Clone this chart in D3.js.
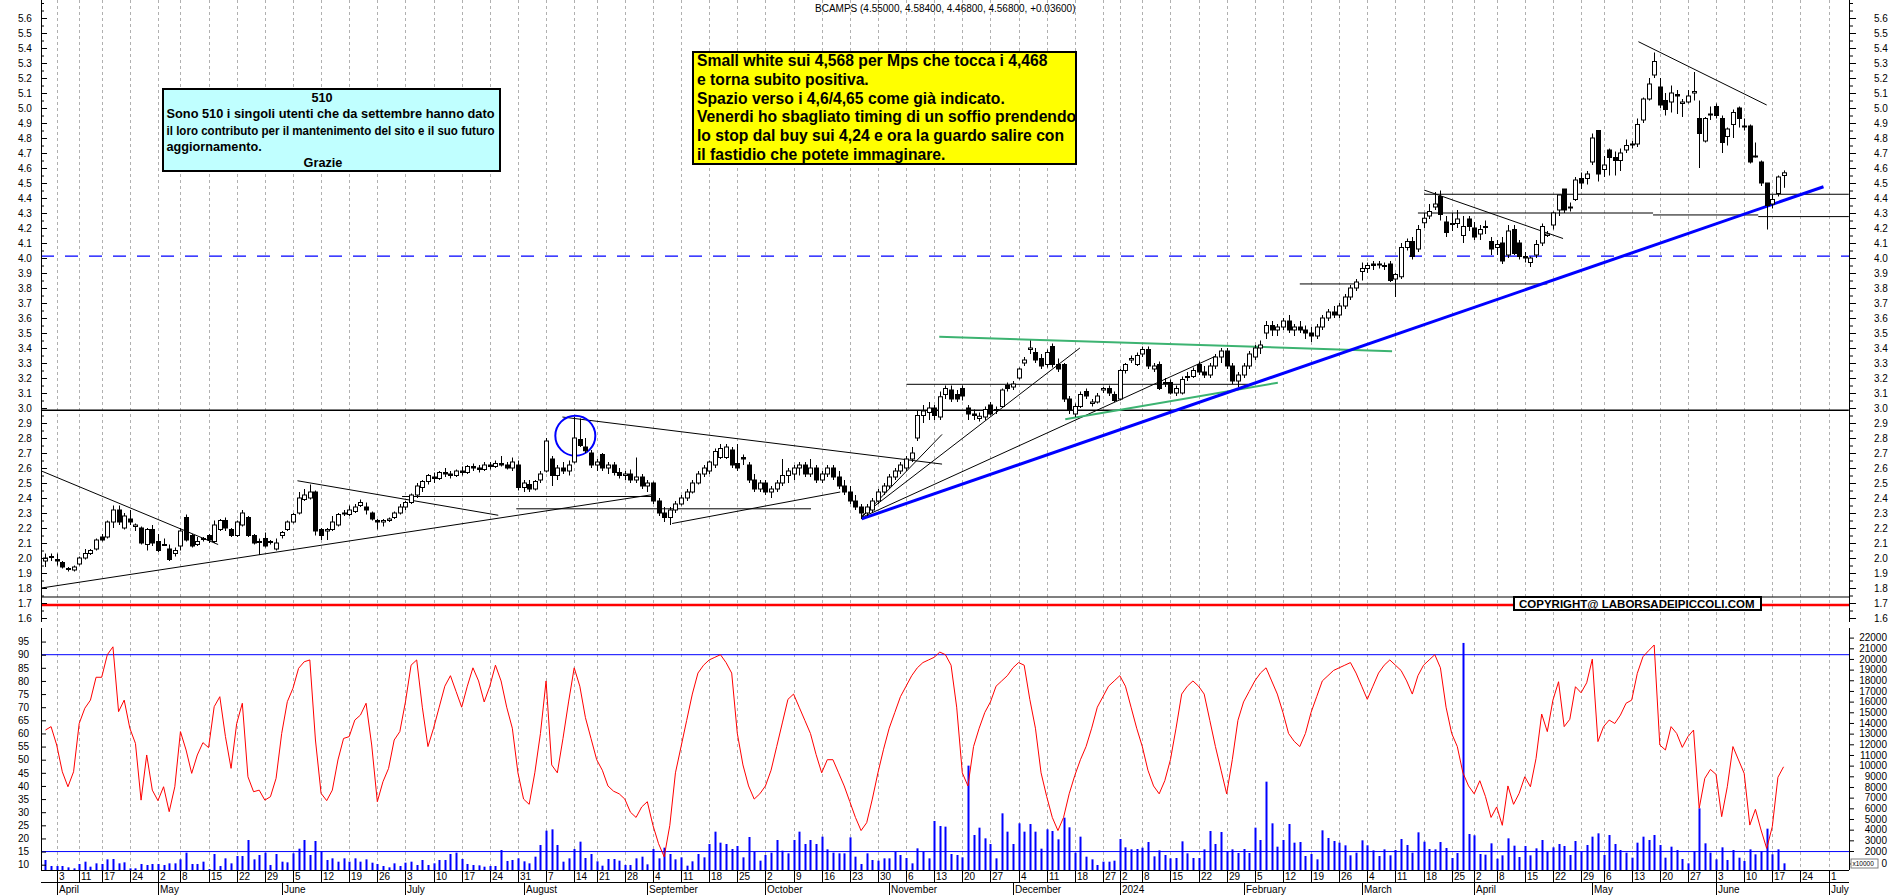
<!DOCTYPE html>
<html>
<head>
<meta charset="utf-8">
<script src="https://cdn.jsdelivr.net/npm/d3@7"></script>
<style>
  body { margin: 0; background: #fff; }
  svg { display: block; font-family: "Liberation Sans", Arial, sans-serif; }
</style>
</head>
<body>
<div id="chart"></div>
<script>
// Borsa Italiana closing days inside the plotted range
const holidays = ["2023-04-07", "2023-04-10", "2023-05-01", "2023-08-15", "2023-12-25",
  "2023-12-26", "2024-01-01", "2024-03-29", "2024-04-01", "2024-05-01"];
const monthNames = ["January", "February", "March", "April", "May", "June", "July",
  "August", "September", "October", "November", "December"];

// daily candles, 30 Mar 2023 .. 19 Jun 2024
// block A: 30 Mar - 30 Jun 2023
const openA = [1.98,2.01,1.99,1.97,1.93,1.92,1.96,2.00,2.03,2.06,2.14,2.14,2.24,2.32,2.20,2.26,2.21,2.20,2.09,2.19,2.11,2.09,2.06,2.03,2.08,2.27,2.15,2.09,2.13,2.15,2.11,2.19,2.25,2.19,2.15,2.22,2.27,2.15,2.11,2.13,2.11,2.06,2.15,2.19,2.24,2.30,2.39,2.40,2.44,2.19,2.18,2.19,2.22,2.30,2.29,2.31,2.35,2.34,2.30,2.25,2.24,2.25,2.27,2.30];
const highA = [2.03,2.03,2.03,1.98,1.94,1.95,2.01,2.06,2.06,2.13,2.16,2.25,2.35,2.35,2.30,2.32,2.23,2.21,2.20,2.22,2.16,2.13,2.09,2.07,2.20,2.29,2.16,2.14,2.14,2.16,2.25,2.26,2.27,2.20,2.25,2.32,2.28,2.16,2.13,2.17,2.12,2.13,2.18,2.25,2.30,2.44,2.46,2.49,2.45,2.20,2.20,2.28,2.30,2.32,2.35,2.36,2.39,2.37,2.31,2.26,2.26,2.27,2.31,2.36];
const lowA = [1.94,1.98,1.95,1.93,1.91,1.91,1.95,1.99,2.02,2.05,2.11,2.13,2.20,2.22,2.19,2.22,2.18,2.09,2.05,2.08,2.04,2.08,1.98,2.01,2.05,2.11,2.07,2.08,2.11,2.10,2.10,2.18,2.18,2.14,2.14,2.21,2.14,2.09,2.02,2.07,2.09,2.05,2.13,2.18,2.23,2.29,2.38,2.39,2.15,2.12,2.12,2.18,2.21,2.28,2.28,2.30,2.34,2.29,2.25,2.19,2.21,2.24,2.26,2.29];
const closeA = [2.00,2.01,1.98,1.94,1.93,1.94,2.00,2.03,2.05,2.12,2.12,2.24,2.32,2.24,2.28,2.24,2.22,2.10,2.19,2.10,2.05,2.09,1.99,2.05,2.18,2.12,2.08,2.11,2.13,2.12,2.22,2.25,2.20,2.15,2.24,2.30,2.15,2.10,2.11,2.08,2.11,2.10,2.17,2.24,2.29,2.40,2.42,2.44,2.18,2.15,2.19,2.24,2.29,2.30,2.32,2.34,2.37,2.32,2.26,2.24,2.25,2.26,2.30,2.34];

// block B: 3 Jul 2023 - 16 Apr 2024
const openB = [2.34,2.37,2.42,2.47,2.51,2.54,2.53,2.57,2.56,2.55, 2.58,2.57,2.61,2.60,2.59,2.62,2.61,2.63,2.62,2.60,
  2.62,2.47,2.49,2.46,2.52,2.58,2.66,2.55,2.60,2.58, 2.64,2.79,2.74,2.70,2.62,2.69,2.60,2.62,2.57,2.55,
  2.56,2.52,2.54,2.48,2.50,2.38,2.30,2.27,2.32,2.36, 2.40,2.44,2.50,2.56,2.58,2.62,2.67,2.67,2.72,2.63,
  2.67,2.62,2.52,2.46,2.50,2.44,2.46,2.50,2.55,2.56, 2.60,2.62,2.56,2.60,2.52,2.56,2.60,2.54,2.48,2.44,
  2.38,2.34,2.30,2.32,2.38,2.44,2.48,2.54,2.58,2.60, 2.66,2.80,2.95,2.97,3.00,2.94,3.09,3.12,3.09,3.13,
  3.00,2.96,2.93,2.94,3.02,2.99,3.01,3.15,3.14,3.20, 3.30,3.39,3.37,3.33,3.29,3.41,3.29,3.29,3.06,2.96,
  3.01,3.11,3.03,3.04,3.12,3.13,3.09,3.06,3.25,3.32, 3.29,3.36,3.39,3.26,3.29,3.17,3.17,3.10,3.10,3.21,
  3.21,3.29,3.24,3.22,3.28,3.34,3.38,3.28,3.18,3.22, 3.28,3.34,3.40,3.50,3.55,3.52,3.54,3.58,3.52,3.54,
  3.52,3.50,3.48,3.54,3.60,3.64,3.62,3.68,3.74,3.80, 3.91,3.93,3.96,3.96,3.95,3.96,3.86,3.875,4.07,4.11,
  4.06,4.235,4.28,4.34,4.41,4.24,4.23,4.23,4.15,4.26, 4.20,4.16,4.21,4.11,4.07,4.10,4.02,4.19,4.10,4.01,3.97];
const highB = [2.38,2.43,2.50,2.52,2.56,2.57,2.58,2.60,2.58,2.59, 2.61,2.62,2.63,2.62,2.64,2.64,2.65,2.68,2.64,2.67,
  2.65,2.52,2.52,2.52,2.58,2.80,2.68,2.62,2.64,2.65, 2.94,2.93,2.80,2.72,2.66,2.70,2.64,2.64,2.60,2.58,
  2.59,2.67,2.56,2.52,2.51,2.40,2.34,2.34,2.38,2.42, 2.46,2.52,2.58,2.62,2.65,2.73,2.76,2.76,2.74,2.76,
  2.69,2.64,2.56,2.52,2.52,2.48,2.52,2.66,2.60,2.62, 2.64,2.64,2.66,2.62,2.58,2.62,2.62,2.58,2.52,2.48,
  2.42,2.36,2.36,2.40,2.46,2.50,2.56,2.60,2.64,2.68, 2.74,2.98,3.02,3.04,3.02,3.11,3.15,3.15,3.12,3.15,
  3.02,2.99,2.97,3.01,3.04,3.01,3.13,3.17,3.18,3.27, 3.34,3.45,3.40,3.36,3.39,3.43,3.33,3.30,3.08,3.03,
  3.11,3.13,3.06,3.10,3.14,3.15,3.11,3.26,3.30,3.35, 3.37,3.41,3.41,3.30,3.31,3.20,3.19,3.15,3.21,3.24,
  3.27,3.31,3.28,3.30,3.36,3.40,3.40,3.30,3.24,3.30, 3.38,3.42,3.45,3.58,3.58,3.56,3.60,3.62,3.56,3.58,
  3.55,3.54,3.56,3.62,3.66,3.68,3.70,3.76,3.82,3.86, 3.97,3.97,3.98,3.98,3.97,3.98,3.90,4.10,4.13,4.14,
  4.22,4.30,4.36,4.44,4.45,4.28,4.30,4.32,4.28,4.28, 4.24,4.22,4.25,4.14,4.12,4.14,4.22,4.22,4.12,4.04,4.01];
const lowB = [2.32,2.36,2.40,2.44,2.49,2.50,2.52,2.54,2.53,2.54, 2.55,2.56,2.58,2.57,2.58,2.59,2.60,2.61,2.59,2.58,
  2.45,2.44,2.44,2.45,2.50,2.57,2.48,2.52,2.56,2.55, 2.63,2.74,2.70,2.60,2.58,2.58,2.56,2.55,2.53,2.52,
  2.50,2.50,2.46,2.44,2.36,2.28,2.24,2.22,2.30,2.35, 2.38,2.43,2.49,2.54,2.56,2.60,2.66,2.66,2.60,2.58,
  2.62,2.50,2.44,2.44,2.42,2.40,2.44,2.48,2.50,2.52, 2.55,2.54,2.54,2.50,2.50,2.54,2.52,2.46,2.42,2.36,
  2.32,2.26,2.28,2.30,2.36,2.42,2.46,2.52,2.56,2.58, 2.64,2.78,2.90,2.92,2.92,2.92,3.06,3.04,3.04,3.05,
  2.92,2.92,2.91,2.92,2.95,2.96,3.00,3.11,3.12,3.19, 3.28,3.36,3.30,3.26,3.27,3.27,3.24,3.04,2.96,2.94,
  3.00,3.06,3.01,3.03,3.10,3.08,3.04,3.05,3.23,3.30, 3.28,3.34,3.26,3.24,3.12,3.14,3.09,3.08,3.09,3.18,
  3.20,3.22,3.20,3.20,3.26,3.30,3.26,3.16,3.14,3.20, 3.26,3.32,3.36,3.46,3.48,3.48,3.52,3.50,3.48,3.50,
  3.46,3.44,3.46,3.52,3.58,3.60,3.60,3.66,3.72,3.78, 3.85,3.90,3.92,3.93,3.92,3.84,3.74,3.86,4.05,3.99,
  4.04,4.20,4.26,4.32,4.25,4.14,4.18,4.20,4.10,4.18, 4.12,4.12,4.16,4.02,4.02,3.96,4.00,4.02,3.99,3.97,3.94];
const closeB = [2.37,2.42,2.48,2.51,2.55,2.53,2.57,2.56,2.55,2.58, 2.57,2.61,2.60,2.59,2.62,2.61,2.63,2.62,2.60,2.64,
  2.47,2.50,2.46,2.51,2.56,2.78,2.55,2.60,2.58,2.62, 2.80,2.75,2.715,2.62,2.64,2.60,2.62,2.57,2.55,2.56,
  2.52,2.54,2.48,2.50,2.38,2.30,2.27,2.32,2.36,2.40, 2.44,2.50,2.56,2.60,2.64,2.71,2.73,2.74,2.62,2.60,
  2.66,2.52,2.46,2.50,2.44,2.46,2.50,2.55,2.58,2.60, 2.62,2.56,2.60,2.52,2.56,2.60,2.54,2.48,2.44,2.38,
  2.34,2.30,2.34,2.38,2.44,2.48,2.54,2.58,2.62,2.66, 2.70,2.95,2.98,3.00,2.95,3.075,3.13,3.06,3.06,3.08,
  2.96,2.95,2.945,2.99,2.96,2.99,3.12,3.13,3.16,3.26, 3.32,3.40,3.32,3.28,3.37,3.29,3.26,3.06,2.99,3.01,
  3.09,3.08,3.04,3.08,3.13,3.10,3.05,3.25,3.29,3.33, 3.35,3.39,3.28,3.28,3.13,3.17,3.10,3.13,3.19,3.21,
  3.25,3.24,3.22,3.28,3.34,3.38,3.28,3.18,3.22,3.28, 3.36,3.40,3.42,3.55,3.52,3.54,3.58,3.52,3.54,3.52,
  3.50,3.48,3.54,3.60,3.64,3.62,3.68,3.74,3.80,3.84, 3.93,3.95,3.95,3.96,3.95,3.85,3.89,4.07,4.11,4.01,
  4.19,4.265,4.31,4.36,4.29,4.17,4.23,4.26,4.21,4.21, 4.14,4.19,4.21,4.06,4.09,3.98,4.18,4.03,4.01,4.00,4.00];

// block C: 17 Apr - 19 Jun 2024
const openC = [4.02,4.10,4.15,4.22,4.32,4.46,4.34,4.39,4.53,4.53,4.64,4.85,4.59,4.72,4.67,4.65,4.72,4.76,4.76,4.92,5.06,5.22,5.14,5.05,5.04,5.09,5.03,5.04,5.10,4.93,4.78,4.96,5.01,4.93,4.81,4.89,5.00,4.88,4.88,4.68,4.64,4.50,4.36,4.43,4.55];
const highC = [4.12,4.23,4.18,4.31,4.42,4.46,4.37,4.54,4.57,4.58,4.83,4.85,4.68,4.73,4.71,4.73,4.79,4.78,4.93,5.07,5.20,5.37,5.20,5.10,5.15,5.12,5.06,5.12,5.24,5.05,4.94,5.01,5.03,4.95,4.87,4.99,5.01,4.93,4.89,4.77,4.65,4.50,4.42,4.55,4.584];
const lowC = [4.00,4.08,4.14,4.19,4.28,4.30,4.31,4.38,4.46,4.49,4.62,4.51,4.54,4.55,4.55,4.58,4.70,4.73,4.74,4.90,5.05,5.20,5.00,4.95,4.97,4.96,4.94,5.03,5.05,4.60,4.77,4.92,4.93,4.70,4.75,4.80,4.87,4.85,4.63,4.67,4.48,4.19,4.33,4.41,4.468];
const closeC = [4.09,4.21,4.16,4.30,4.42,4.32,4.34,4.52,4.50,4.56,4.80,4.56,4.62,4.67,4.65,4.70,4.75,4.76,4.89,5.06,5.16,5.31,5.02,4.99,5.10,5.08,5.04,5.08,5.11,4.83,4.93,4.96,4.95,4.77,4.86,4.97,4.93,4.88,4.64,4.68,4.50,4.35,4.39,4.54,4.568];

// lower panel: oscillator (left scale)
const oscA = [61.3,62.6,55.6,45.4,39.7,45.4,63.8,69.6,72.7,81.4,81.4,90,93,68.3,72.7,62,56.2,34.6,51.8,38.4,34.4,39.7,30.2,39.7,60.7,53.7,44.8,51.8,56.5,54.6,70.2,74,58.8,46.7,63.8,71.5,43.5,37.8,38.4,34.6,35.9,42.9,60,72.1,77.2,84.8,87.3,88,57.5,37.2,34.4,38.4,49.9,58.1,58.8,65.1,67,71.5,55.6,34,41.6,46.7,57.5,60.7];
const oscB = [72,86,88,70,55,62,70,78,82,76, 70,78,85,80,72,78,86,80,70,62, 45,35,33,45,60,80,48,45,58,72,
  85,78,66,58,50,46,40,38,37,35, 30,28,32,34,25,18,13,25,45,55, 65,75,83,86,88,89,90,87,83,60,
  48,40,35,37,40,46,55,64,73,75, 70,65,60,52,45,50,50,45,40,34, 28,23,26,35,45,54,62,68,74,78,
  82,85,87,88,89,91,90,86,70,45, 40,55,62,68,72,78,80,82,85,87, 86,73,62,45,36,28,23,28,37,44,
  50,55,62,70,74,78,80,82,78,70, 62,55,46,40,37,42,50,62,75,78, 80,78,75,65,55,46,37,50,65,72,
  76,80,83,85,80,75,68,60,57,55, 60,68,74,80,82,84,85,86,87,83, 78,73,78,83,86,88,86,84,80,75,
  82,86,88,90,85,70,60,55,45,40, 37,42,36,28,32,25,40,33];
const oscC = [37.2,43.5,39.7,50.5,67.4,60.7,72.7,79.7,62.6,65.4,77.8,75.5,79.3,88.3,56.9,62.6,65.1,63.8,67,71.5,72.7,82.9,89.2,91.5,93.7,55.6,53.7,62.6,60,54.7,58.8,61.3,31.5,42.9,46.3,44.4,28.3,39.7,55,49.9,44.8,25.1,31.1,23.2,16.2,24.5,43.3,47.3];

// volume (right scale, x10000)
const volA = [1157,594,594,594,469,375,782,1000,531,844,782,1219,1250,844,938,375,375,782,688,782,782,688,844,844,1219,1844,782,782,1000,313,1719,594,1313,844,1531,1531,3031,1219,1625,1844,688,1719,1000,938,1781,2219,3031,1625,2937,2000,1157,1313,1000,1313,1000,1313,1000,1219,906,782,594,469,844,594];
const volB = [906,1000,688,1157,688, 844,1157,1157,1719,1844, 1250,782,688,656,531, 594,594,2094,1063,1157, 1312,1031,844,1469,2562,
  3906,4031,2562,1000,1312, 2187,2875,1344,1719, 1031,625,1250,1250,1094, 688,688,1312,1469,750, 2187,1312,2312,1719,1219,
  1406,625,1031,1719,1406, 2656,3812,2781,2656,2187, 2469,1406,3312,1937,1094, 1625,1844,3031,2031,1781, 3031,3812,2656,3031,2656,
  3344,2156,1844,1781,1781, 3281,1469,782,1781,1157, 1094,1312,1312,1937,1625, 1344,844,2250,1937,1312, 4812,4343,4281,1719,1625,
  1406,10000,3500,4187,3187, 2656,1312,5531,3812,2656, 4594,3812,4531,3812,2219, 4031,
  3874,3094,5125,4219,1844, 3344,1469,1219,688,1000, 1000,1094,3125,2344,2156, 2187,2312,2844,1500,2062, 1625,1312,1344,2906,1781,
  1344,1344,2156,3874,2656, 3781,2000,2156,1812,2187, 1812,4187,3031,8500,4594, 2406,3031,4531,2781,2844, 1531,1719,1219,3937,3219,
  2937,2781,2531,1594,1844, 3000,2531,2062,1531,2156, 1594,2094,3125,2562,1844, 3750,2875,2187,2156,2844, 2281,1344,1812,21500,3593,
  3469,1719,1656,2719,1281, 1594,3187,2500,1437,2469, 1594];
const volC = [2250,3031,1937,2344,2656,2469,1625,2937,1937,2562,3344,3656,1625,3500,2656,2094,1844,1375,2781,3344,3031,3500,2562,1375,2406,2094,1250,844,2000,6000,2719,1844,1219,2344,1157,2094,1375,1063,2156,1688,2000,4094,1688,2156,844];

const openP = [...openA, ...openB, ...openC];
const highP = [...highA, ...highB, ...highC];
const lowP = [...lowA, ...lowB, ...lowC];
const closeP = [...closeA, ...closeB, ...closeC];
const oscV = [...oscA, ...oscB, ...oscC];
const volV = [...volA, ...volB, ...volC];

// drawn lines: [day index, price] pairs (day 0 = 30 Mar 2023)
const trendLines = [
  {pts: [[-0.7, 2.58], [30.7, 2.09]], color: "#000", w: 1},
  {pts: [[-0.7, 1.80], [108.2, 2.424]], color: "#000", w: 1},
  {pts: [[44.8, 2.515], [80.5, 2.285]], color: "#000", w: 1},
  {pts: [[63.4, 2.41], [108.2, 2.41]], color: "#000", w: 1},
  {pts: [[83.7, 2.328], [136.1, 2.328]], color: "#000", w: 1},
  {pts: [[111.4, 2.23], [141.3, 2.44]], color: "#000", w: 1},
  {pts: [[91.9, 2.94], [159.4, 2.626]], color: "#000", w: 1},
  {pts: [[145.1, 2.27], [159.4, 2.824]], color: "#000", w: 1},
  {pts: [[145.1, 2.28], [183.9, 3.40]], color: "#000", w: 1},
  {pts: [[145.1, 2.27], [208, 3.345]], color: "#000", w: 1},
  {pts: [[153.1, 3.158], [213.8, 3.158]], color: "#000", w: 1},
  {pts: [[223, 3.827], [267, 3.827]], color: "#000", w: 1},
  {pts: [[245.1, 4.453], [269.8, 4.13]], color: "#000", w: 1},
  {pts: [[245.1, 4.425], [320.6, 4.425]], color: "#000", w: 1},
  {pts: [[244, 4.30], [285.8, 4.30]], color: "#000", w: 1},
  {pts: [[285.8, 4.287], [304.5, 4.287]], color: "#000", w: 1},
  {pts: [[304.5, 4.276], [320.6, 4.276]], color: "#000", w: 1},
  {pts: [[283.2, 5.442], [306, 5.02]], color: "#000", w: 1},
  {pts: [[-0.7, 2.985], [320.6, 2.985]], color: "#000", w: 1.3},
  {pts: [[158.9, 3.475], [239.4, 3.379]], color: "#3cb371", w: 2},
  {pts: [[181.3, 2.925], [219.1, 3.169]], color: "#3cb371", w: 2},
  {pts: [[145.1, 2.261], [316.1, 4.475]], color: "#0000ff", w: 3}
];
const dashedLevel = 4.013;
const circleMark = {day: 94.2, price: 2.815, r: 20};
const oscLevels = [90, 15];

const title = "BCAMPS (4.55000, 4.58400, 4.46800, 4.56800, +0.03600)";
const cyanLines = ["Sono 510 i singoli utenti che da settembre hanno dato",
  "il loro contributo per il mantenimento del sito e il suo futuro",
  "aggiornamento."];
const cyanWidths = [328, 328, null];
const yellowLines = ["Small white sui 4,568 per Mps che tocca i 4,468",
  "e torna subito positiva.",
  "Spazio verso i 4,6/4,65 come già indicato.",
  "Venerdi ho sbagliato timing di un soffio prendendo",
  "lo stop dal buy sui 4,24 e ora la guardo salire con",
  "il fastidio che potete immaginare."];

// trading calendar
const fmt = d3.timeFormat("%Y-%m-%d");
const days = d3.timeDay.range(new Date(2023, 2, 30), new Date(2024, 6, 6))
  .filter(d => d.getDay() !== 0 && d.getDay() !== 6 && !holidays.includes(fmt(d)));

const W = 1890, H = 895;
const left = 41, right = 1849, bottom = 870;

const svg = d3.select("#chart").append("svg").attr("width", W).attr("height", H);

const x = d3.scaleLinear().domain([2, 307]).range([56.7, 1772.3]);
const yP = d3.scaleLinear().domain([4, 5]).range([258, 108]);
const yOsc = d3.scaleLinear().domain([10, 90]).range([864.7, 654.7]);
const yVol = d3.scaleLinear().domain([2000, 22000]).range([851, 637.6]);

const weekStarts = days.map((d, k) => k).filter(k => k > 0 &&
  +d3.timeMonday.floor(days[k]) !== +d3.timeMonday.floor(days[k - 1]));
const monthStarts = days.map((d, k) => k).filter(k => k > 0 &&
  days[k].getMonth() !== days[k - 1].getMonth());

// weekly grid
svg.append("g").selectAll("line").data(weekStarts).join("line")
  .attr("x1", k => Math.round(x(k)) + 0.5).attr("x2", k => Math.round(x(k)) + 0.5)
  .attr("y1", 0).attr("y2", bottom)
  .attr("stroke", "#b0b0b0").attr("stroke-dasharray", "3,3");

// text boxes
svg.append("text").attr("x", 815).attr("y", 12).attr("font-size", 10).text(title);

svg.append("rect").attr("x", 163).attr("y", 89).attr("width", 337).attr("height", 82)
  .attr("fill", "#c0ffff").attr("stroke", "#000").attr("stroke-width", 2);
svg.append("text").attr("x", 322).attr("y", 101.7).attr("text-anchor", "middle")
  .attr("font-size", 12.7).attr("font-weight", "bold").text("510");
svg.append("g").selectAll("text").data(cyanLines).join("text")
  .attr("x", 166.5).attr("y", (d, k) => 118.3 + k * 16.2)
  .attr("font-size", 12.7).attr("font-weight", "bold")
  .attr("textLength", (d, k) => cyanWidths[k])
  .attr("lengthAdjust", "spacingAndGlyphs")
  .text(d => d);
svg.append("text").attr("x", 323).attr("y", 166.7).attr("text-anchor", "middle")
  .attr("font-size", 12.7).attr("font-weight", "bold").text("Grazie");

svg.append("rect").attr("x", 693).attr("y", 52).attr("width", 383).attr("height", 112)
  .attr("fill", "#ffff00").attr("stroke", "#000").attr("stroke-width", 2);
svg.append("g").selectAll("text").data(yellowLines).join("text")
  .attr("x", 697).attr("y", (d, k) => 66 + k * 18.8)
  .attr("font-size", 15.7).attr("font-weight", "bold").text(d => d);

// level lines
svg.append("line").attr("x1", left).attr("x2", right)
  .attr("y1", yP(dashedLevel)).attr("y2", yP(dashedLevel))
  .attr("stroke", "#0000ff").attr("stroke-width", 1.3).attr("stroke-dasharray", "13,11");
svg.append("line").attr("x1", left).attr("x2", right).attr("y1", yP(1.74)).attr("y2", yP(1.74))
  .attr("stroke", "#000").attr("stroke-width", 1.2);
svg.append("line").attr("x1", left).attr("x2", right).attr("y1", yP(1.687)).attr("y2", yP(1.687))
  .attr("stroke", "#ff0000").attr("stroke-width", 2.6);

// trend lines
const tl = d3.line().x(d => x(d[0])).y(d => yP(d[1]));
svg.append("g").selectAll("path").data(trendLines).join("path")
  .attr("d", d => tl(d.pts)).attr("fill", "none")
  .attr("stroke", d => d.color).attr("stroke-width", d => d.w);

svg.append("circle").attr("cx", x(circleMark.day)).attr("cy", yP(circleMark.price))
  .attr("r", circleMark.r).attr("fill", "none").attr("stroke", "#0000ff").attr("stroke-width", 2);

// candles
const candles = closeP.map((c, k) => ({k, o: openP[k], h: highP[k], l: lowP[k], c}));
const cg = svg.append("g");
cg.selectAll("line").data(candles).join("line")
  .attr("x1", d => Math.round(x(d.k)) + 0.5).attr("x2", d => Math.round(x(d.k)) + 0.5)
  .attr("y1", d => yP(d.h)).attr("y2", d => yP(d.l)).attr("stroke", "#000");
cg.selectAll("rect").data(candles).join("rect")
  .attr("x", d => Math.round(x(d.k)) - 1.5)
  .attr("width", 4)
  .attr("y", d => yP(Math.max(d.o, d.c)))
  .attr("height", d => Math.max(1, Math.abs(yP(d.o) - yP(d.c))))
  .attr("fill", d => d.c >= d.o ? "#fff" : "#000")
  .attr("stroke", "#000").attr("stroke-width", 1);

// lower panel
svg.append("g").selectAll("line").data(oscLevels).join("line")
  .attr("x1", left).attr("x2", right).attr("y1", d => yOsc(d)).attr("y2", d => yOsc(d))
  .attr("stroke", "#0000ff");
svg.append("g").selectAll("rect").data(volV).join("rect")
  .attr("x", (v, k) => Math.round(x(k)) - 0.5).attr("width", 2)
  .attr("y", v => yVol(v)).attr("height", v => bottom - yVol(v)).attr("fill", "#0000ff");
svg.append("path").datum(oscV)
  .attr("d", d3.line().x((v, k) => x(k)).y(v => yOsc(v)))
  .attr("fill", "none").attr("stroke", "#ff0000").attr("stroke-width", 1);

svg.append("rect").attr("x", 1514).attr("y", 597).attr("width", 247).attr("height", 13)
  .attr("fill", "#fff").attr("stroke", "#000").attr("stroke-width", 2);
svg.append("text").attr("x", 1519).attr("y", 607.8).attr("font-size", 11.5)
  .attr("font-weight", "bold").text("COPYRIGHT@ LABORSADEIPICCOLI.COM");

// axes
function styleAxis(g, labelX, anchor) {
  g.select(".domain").remove();
  g.attr("font-family", null).attr("font-size", 10);
  g.selectAll("text").attr("x", labelX).attr("text-anchor", anchor).attr("fill", "#000");
  g.selectAll("line").attr("stroke", "#000");
}
const pMinor = d3.range(32, 115).map(v => v / 20);
const pMajor = d3.range(16, 57).map(v => v / 10);
const oscTicks = d3.range(10, 100, 5);
const volTicks = [0, ...d3.range(2000, 23000, 1000)];

[[left, -23, "start"], [right, 25, "start"]].forEach(([ax, lx, an], s) => {
  svg.append("g").attr("transform", `translate(${ax},0)`)
    .call(d3.axisRight(yP).tickValues(pMinor).tickSize(s ? 4 : 3).tickFormat(""))
    .call(g => styleAxis(g, 0, "start"));
  svg.append("g").attr("transform", `translate(${ax},0)`)
    .call(d3.axisRight(yP).tickValues(pMajor).tickSize(s ? 7 : 6).tickFormat(d3.format(".1f")))
    .call(g => styleAxis(g, lx, an));
});
svg.append("g").attr("transform", `translate(${left},0)`)
  .call(d3.axisRight(yOsc).tickValues(oscTicks).tickSize(5))
  .call(g => styleAxis(g, -23, "start"));
svg.append("g").attr("transform", `translate(${right},0)`)
  .call(d3.axisRight(yVol).tickValues(volTicks).tickSize(5).tickFormat(d3.format("d")))
  .call(g => styleAxis(g, 38, "end"))
  .call(g => g.selectAll(".tick").filter(v => v === 0).attr("transform", "translate(0,864)"));

[left, right].forEach(ax => {
  svg.append("line").attr("x1", ax + 0.5).attr("x2", ax + 0.5).attr("y1", 0).attr("y2", 622).attr("stroke", "#000");
  svg.append("line").attr("x1", ax + 0.5).attr("x2", ax + 0.5).attr("y1", 628).attr("y2", bottom).attr("stroke", "#000");
});

svg.append("rect").attr("x", 1851).attr("y", 859).attr("width", 27).attr("height", 9)
  .attr("fill", "#fff").attr("stroke", "#808080");
svg.append("text").attr("x", 1852.5).attr("y", 866).attr("font-size", 6.5).text("x10000");

// time axis
svg.append("line").attr("x1", left).attr("x2", right).attr("y1", bottom + 0.5).attr("y2", bottom + 0.5).attr("stroke", "#000");
svg.append("line").attr("x1", left).attr("x2", right).attr("y1", 882.5).attr("y2", 882.5).attr("stroke", "#000");
const tg = svg.append("g").attr("font-size", 10);
tg.selectAll("line.w").data(weekStarts).join("line").attr("class", "w")
  .attr("x1", k => Math.round(x(k)) + 0.5).attr("x2", k => Math.round(x(k)) + 0.5)
  .attr("y1", bottom).attr("y2", 882.5).attr("stroke", "#000");
tg.selectAll("text.w").data(weekStarts).join("text").attr("class", "w")
  .attr("x", k => Math.round(x(k)) + 2).attr("y", 880.3).text(k => days[k].getDate());
tg.selectAll("line.m").data(monthStarts).join("line").attr("class", "m")
  .attr("x1", k => Math.round(x(k)) + 0.5).attr("x2", k => Math.round(x(k)) + 0.5)
  .attr("y1", 882.5).attr("y2", H).attr("stroke", "#000");
tg.selectAll("text.m").data(monthStarts).join("text").attr("class", "m")
  .attr("x", k => Math.round(x(k)) + 2).attr("y", 893.3)
  .text(k => days[k].getMonth() === 0 ? days[k].getFullYear() : monthNames[days[k].getMonth()]);
</script>
</body>
</html>
